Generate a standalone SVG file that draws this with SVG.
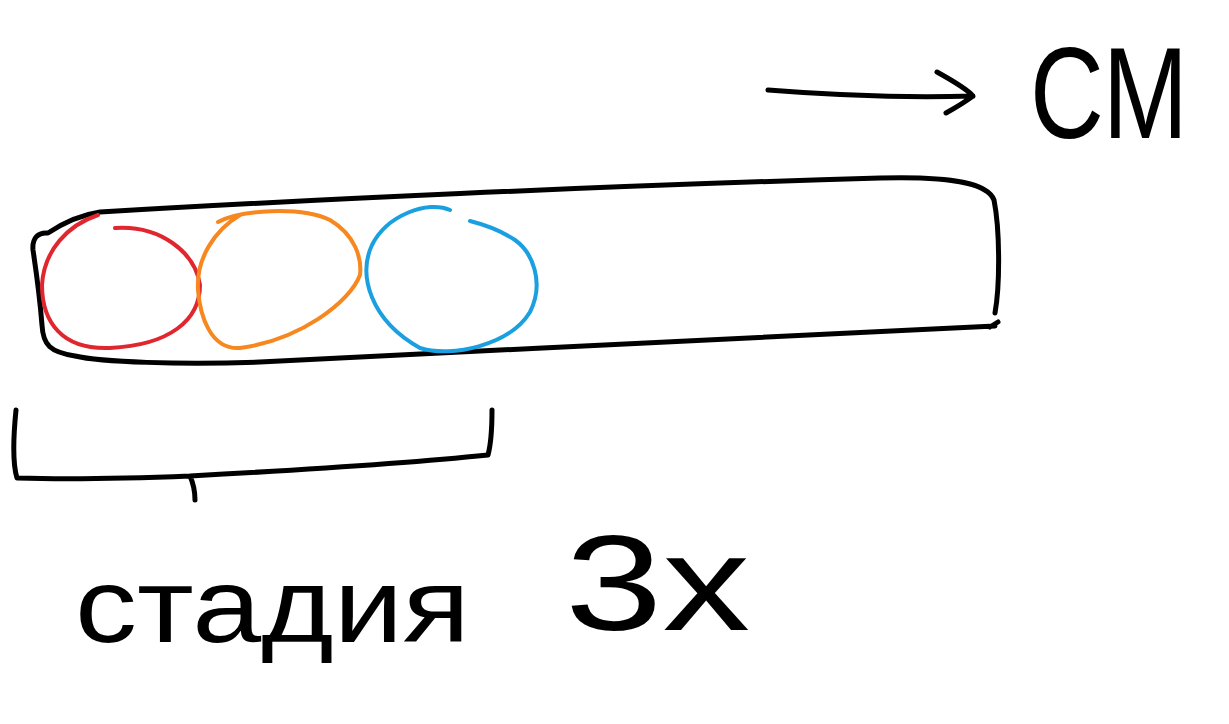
<svg xmlns="http://www.w3.org/2000/svg" width="1229" height="724" viewBox="0 0 1229 724">
<style>
.ink{fill:none;stroke:#000;stroke-width:5;stroke-linecap:round;stroke-linejoin:round}
.c{fill:none;stroke-width:4;stroke-linecap:round;stroke-linejoin:round}
.t{font-family:"Liberation Sans","DejaVu Sans",sans-serif;fill:#000}
</style>
<rect width="1229" height="724" fill="#fff"/>
<g id="tube">
<path class="ink" d="M100 212 C300 200 600 186 880 178 C955 176 988 184 994 200 C1000 230 1000 285 995 313 M990 327 L998 322 M995 326 C800 335 500 350 260 362 C180 365 100 362 75 356 C50 352 43 345 42 325 C40 300 36 270 33 250 C32 238 38 232 48 233 C60 225 80 215 100 212"/>
</g>
<g id="red-circle">
<path class="c" stroke="#e0262e" d="M115 228 C160 225 195 252 200 285 C200 320 170 345 110 348 C62 350 42 322 42 285 C44 250 68 225 98 215"/>
</g>
<g id="orange-circle">
<path class="c" stroke="#f7871f" d="M218 222 C240 210 300 206 330 220 C355 235 362 258 360 275 C350 302 300 340 240 348 C210 350 200 315 198 290 C196 258 215 230 240 215"/>
</g>
<g id="blue-circle">
<path class="c" stroke="#1aa0e0" d="M450 210 C428 200 387 215 372 245 C358 275 370 320 420 348 C452 358 510 345 530 312 C545 282 532 252 515 240 C500 230 482 224 470 221"/>
</g>
<g id="connectors">
<path class="ink" d="M768 90 C830 95 900 98 973 96 M937 72 C955 82 968 90 973 96 C965 102 955 108 946 113"/>
</g>
<g id="brace">
<path class="ink" d="M16 410 C13 440 13 465 17 478 C80 480 140 478 190 476 C194 485 195 492 195 500 M190 476 C300 470 420 462 488 455 C492 440 492 425 492 410"/>
</g>
<g id="label-cm">
<text class="t" x="1030" y="138" font-size="130" textLength="158" lengthAdjust="spacingAndGlyphs">СМ</text>
</g>
<g id="label-stage">
<text class="t" x="75" y="642" font-size="105" textLength="395" lengthAdjust="spacingAndGlyphs">стадия</text>
<text class="t" x="565" y="630" font-size="135" textLength="185" lengthAdjust="spacingAndGlyphs">3х</text>
</g>
</svg>
